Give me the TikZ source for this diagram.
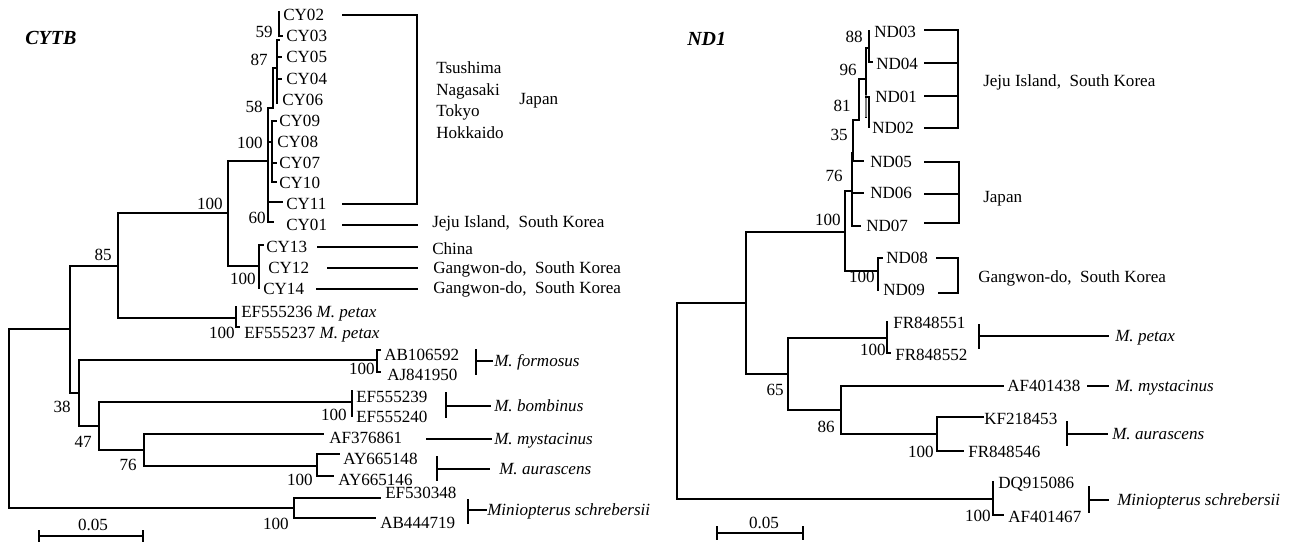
\documentclass[tikz,border=0pt]{standalone}
\usepackage{fontspec}
\setmainfont{Liberation Serif}
\begin{document}
\begin{tikzpicture}[x=0.75pt,y=-0.75pt,
  every node/.style={font=\fontsize{12.8pt}{15pt}\selectfont, inner sep=0pt, text height=8.5pt, text depth=0pt},
  br/.style={line width=1.1pt, line cap=rect, line join=miter},
  lf/.style={anchor=west},
  bs/.style={anchor=east},
  ttl/.style={anchor=west, font=\fontsize{15pt}{18pt}\selectfont\bfseries\itshape, text height=10pt},
  sp/.style={anchor=west, font=\fontsize{12.8pt}{15pt}\selectfont\itshape}]
\useasboundingbox (0,0) rectangle (1299,543);
\fill[white] (0,0) rectangle (1299,543);

% ================= CYTB =================
\node[ttl] (tcytb) at (25,38) {CYTB};
% backbone
\draw[br] (70,329) -- (9,329) -- (9,508) -- (294,508);
\draw[br] (118,266) -- (70,266) -- (70,393) -- (79,393);
\draw[br] (228,213) -- (118,213) -- (118,318) -- (236,318);
\draw[br] (268,161) -- (228,161) -- (228,266) -- (259,266);
\draw[br] (263,245) -- (259,245) -- (259,288);
\draw[br] (236,307) -- (236,327) -- (239,327);
\draw[br] (377,360) -- (79,360) -- (79,426) -- (99,426);
\draw[br] (380,350) -- (377,350) -- (377,372) -- (380,372);
\draw[br] (352,402) -- (99,402) -- (99,450) -- (144,450);
\draw[br] (352,391) -- (352,416);
\draw[br] (323,434) -- (144,434) -- (144,466) -- (317,466);
\draw[br] (339,454) -- (317,454) -- (317,476) -- (333,476);
\draw[br] (380,498) -- (294,498) -- (294,518) -- (375,518);
% Japan cluster
\draw[br] (268,108) -- (268,222) -- (273,222);
\draw[line width=2.2pt] (268,198) -- (268,212);
\draw[br] (268,202) -- (282,202);
\draw[br] (268,108) -- (273,108) -- (273,68) -- (277,68);
\draw[br] (277,40) -- (277,103);
\draw[line width=2pt] (277,42) -- (277,90);
\draw[br] (277,57) -- (281,57);
\draw[br] (277,79) -- (281,79);
\draw[br] (277,40) -- (279,40);
\draw[br] (279,12) -- (279,36) -- (282,36);
\draw[br] (268,142) -- (272,142);
\draw[br] (276,121) -- (272,121) -- (272,182) -- (276,182);
\draw[br] (272,163) -- (276,163);
% leaves
\node[lf] (cy02) at (283,15) {CY02};
\node[lf] (cy03) at (286,36) {CY03};
\node[lf] (cy05) at (286,57) {CY05};
\node[lf] (cy04) at (286,79) {CY04};
\node[lf] (cy06) at (282,100) {CY06};
\node[lf] (cy09) at (279,121) {CY09};
\node[lf] (cy08) at (277,142) {CY08};
\node[lf] (cy07) at (279,163) {CY07};
\node[lf] (cy10) at (279,183) {CY10};
\node[lf] (cy11) at (286,204) {CY11};
\node[lf] (cy01) at (286,225) {CY01};
\node[lf] (cy13) at (266,247) {CY13};
\node[lf] (cy12) at (268,268) {CY12};
\node[lf] (cy14) at (263,289) {CY14};
\node[lf] (ef36) at (241,312) {EF555236 \textit{M. petax}};
\node[lf] (ef37) at (244,333) {EF555237 \textit{M. petax}};
\node[lf] (ab06) at (384,355) {AB106592};
\node[lf] (aj50) at (387,375) {AJ841950};
\node[lf] (ef39) at (356,397) {EF555239};
\node[lf] (ef40) at (356,417) {EF555240};
\node[lf] (af61) at (329,438) {AF376861};
\node[lf] (ay48) at (343,459) {AY665148};
\node[lf] (ay46) at (338,480) {AY665146};
\node[lf] (ef48) at (385,493) {EF530348};
\node[lf] (ab19) at (380,523) {AB444719};
% bootstrap
\node[bs] at (273,32) {59};
\node[bs] at (268,60) {87};
\node[bs] at (263,107) {58};
\node[bs] at (263,143) {100};
\node[bs] at (266,218) {60};
\node[bs] at (223,204) {100};
\node[bs] at (112,255) {85};
\node[bs] at (256,279) {100};
\node[bs] at (235,333) {100};
\node[bs] at (71,407) {38};
\node[bs] at (92,442) {47};
\node[bs] at (137,465) {76};
\node[bs] at (375,369) {100};
\node[bs] at (347,415) {100};
\node[bs] at (313,480) {100};
\node[bs] at (289,524) {100};
% brackets
\draw[br] (343,15) -- (417,15) -- (417,204) -- (343,204);
\draw[br] (343,225) -- (417,225);
\draw[br] (318,247) -- (417,247);
\draw[br] (328,268) -- (417,268);
\draw[br] (317,289) -- (417,289);
\draw[br] (476,350) -- (476,374);
\draw[br] (476,361) -- (492,361);
\draw[br] (446,393) -- (446,417);
\draw[br] (446,406) -- (490,406);
\draw[br] (427,439) -- (491,439);
\draw[br] (437,457) -- (437,480);
\draw[br] (437,469) -- (489,469);
\draw[br] (468,500) -- (468,523);
\draw[br] (468,510) -- (486,510);
\node[lf] (tsu) at (436,68) {Tsushima};
\node[lf] (nag) at (436,90) {Nagasaki};
\node[lf] (tok) at (436,111) {Tokyo};
\node[lf] (hok) at (436,133) {Hokkaido};
\node[lf] (jpn) at (519,99) {Japan};
\node[lf] (jeju) at (432,222) {Jeju Island,\ \ South Korea};
\node[lf] (chi) at (432,249) {China};
\node[lf] (gw1) at (433,268) {Gangwon-do,\ \ South Korea};
\node[lf] (gw2) at (433,288) {Gangwon-do,\ \ South Korea};
\node[sp] (sfor) at (494,361) {M. formosus};
\node[sp] (sbom) at (494,406) {M. bombinus};
\node[sp] (smys) at (494,439) {M. mystacinus};
\node[sp] (saur) at (499,469) {M. aurascens};
\node[sp] (smin) at (487,510) {Miniopterus schrebersii};
% scale
\draw[br] (39,536) -- (143,536);
\draw[br] (39,531) -- (39,541);
\draw[br] (143,531) -- (143,541);
\node (sc1) at (93,525) {0.05};

% ================= ND1 =================
\node[ttl] (tnd) at (687,39) {ND1};
\draw[br] (746,303) -- (677,303) -- (677,499) -- (993,499);
\draw[br] (845,232) -- (746,232) -- (746,374) -- (788,374);
\draw[br] (852,191) -- (845,191) -- (845,271) -- (878,271);
\draw[br] (882,258) -- (878,258) -- (878,290);
\draw[br] (852,153) -- (852,226) -- (860,226);
\draw[line width=2.2pt] (852,155) -- (852,195);
\draw[br] (852,193) -- (863,193);
\draw[br] (853,120) -- (859,120);
\draw[br] (853,120) -- (853,161) -- (863,161);
\draw[br] (859,79) -- (859,120);
\draw[br] (859,79) -- (866,79);
\draw[br] (869,48) -- (866,48) -- (866,117);
\draw[line width=2.2pt, gray] (866,95) -- (866,117);
\draw[br] (866,97) -- (869,97) -- (869,127);
\draw[br] (869,31) -- (869,62) -- (872,62);
\node[lf] (nd03) at (874,32) {ND03};
\node[lf] (nd04) at (876,64) {ND04};
\node[lf] (nd01) at (875,97) {ND01};
\node[lf] (nd02) at (872,128) {ND02};
\node[lf] (nd05) at (870,162) {ND05};
\node[lf] (nd06) at (870,193) {ND06};
\node[lf] (nd07) at (866,226) {ND07};
\node[lf] (nd08) at (886,258) {ND08};
\node[lf] (nd09) at (883,290) {ND09};
\node[bs] at (863,37) {88};
\node[bs] at (857,70) {96};
\node[bs] at (851,106) {81};
\node[bs] at (848,135) {35};
\node[bs] at (843,176) {76};
\node[bs] at (841,220) {100};
\node[bs] at (875,277) {100};
\draw[br] (925,30) -- (958,30) -- (958,128) -- (925,128);
\draw[br] (925,63) -- (958,63);
\draw[br] (925,96) -- (958,96);
\draw[br] (925,162) -- (959,162) -- (959,223) -- (925,223);
\draw[br] (925,194) -- (959,194);
\draw[br] (937,258) -- (958,258) -- (958,293) -- (939,293);
\node[lf] (jeju2) at (983,81) {Jeju Island,\ \ South Korea};
\node[lf] (jpn2) at (983,197) {Japan};
\node[lf] (gw3) at (978,277) {Gangwon-do,\ \ South Korea};
% lower
\draw[br] (887,322) -- (887,353) -- (890,353);
\draw[br] (887,338) -- (788,338) -- (788,410) -- (841,410);
\draw[br] (1003,386) -- (841,386) -- (841,434) -- (937,434);
\draw[br] (983,417) -- (937,417) -- (937,451) -- (963,451);
\draw[br] (993,482) -- (993,515) -- (1003,515);
\node[lf] (fr51) at (893,323) {FR848551};
\node[lf] (fr52) at (895,355) {FR848552};
\node[lf] (af38) at (1007,386) {AF401438};
\node[lf] (kf53) at (984,419) {KF218453};
\node[lf] (fr46) at (968,452) {FR848546};
\node[lf] (dq86) at (998,483) {DQ915086};
\node[lf] (af67) at (1008,517) {AF401467};
\node[bs] at (886,350) {100};
\node[bs] at (784,390) {65};
\node[bs] at (835,427) {86};
\node[bs] at (934,452) {100};
\node[bs] at (991,516) {100};
\draw[br] (979,325) -- (979,348);
\draw[br] (979,336) -- (1108,336);
\draw[br] (1088,386) -- (1108,386);
\draw[br] (1067,422) -- (1067,445);
\draw[br] (1067,434) -- (1107,434);
\draw[br] (1089,487) -- (1089,512);
\draw[br] (1089,500) -- (1108,500);
\node[sp] (spet) at (1115,336) {M. petax};
\node[sp] (smys2) at (1115,386) {M. mystacinus};
\node[sp] (saur2) at (1112,434) {M. aurascens};
\node[sp] (smin2) at (1117,500) {Miniopterus schrebersii};
\draw[br] (717,533) -- (803,533);
\draw[br] (717,527) -- (717,539);
\draw[br] (803,527) -- (803,539);
\node (sc2) at (764,523) {0.05};
\end{tikzpicture}
\end{document}
